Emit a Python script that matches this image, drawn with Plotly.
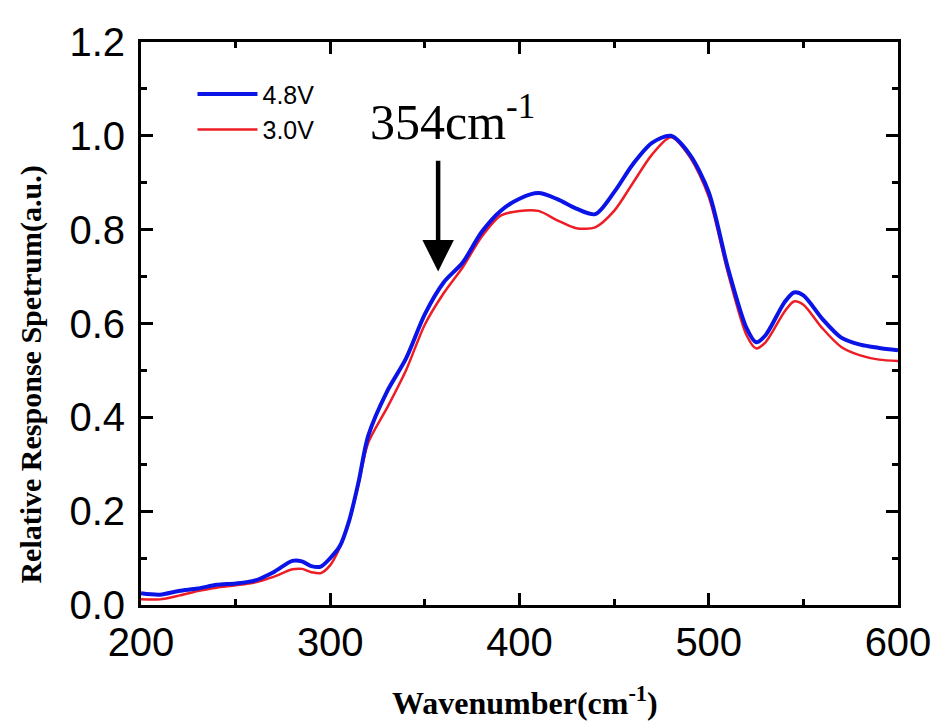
import plotly.graph_objects as go

wavenumber = [200, 210, 220, 230, 240, 250, 260, 270, 280, 285, 290, 295, 300, 305, 310, 315,
              320, 330, 340, 350, 360, 370, 380, 390, 400, 410, 420, 430, 440, 450, 460, 470,
              480, 490, 500, 510, 520, 525, 530, 540, 545, 550, 560, 570, 580, 590, 600]

resp_48v = [0.025, 0.022, 0.030, 0.035, 0.043, 0.046, 0.052, 0.070, 0.094, 0.093, 0.083, 0.082,
            0.100, 0.125, 0.180, 0.263, 0.360, 0.455, 0.525, 0.620, 0.688, 0.730, 0.795, 0.840,
            0.866, 0.878, 0.865, 0.845, 0.833, 0.880, 0.940, 0.985, 1.000, 0.960, 0.880, 0.720,
            0.590, 0.560, 0.575, 0.645, 0.666, 0.660, 0.610, 0.570, 0.555, 0.548, 0.543]

resp_30v = [0.012, 0.012, 0.020, 0.030, 0.037, 0.042, 0.048, 0.060, 0.076, 0.077, 0.070, 0.068,
            0.085, 0.122, 0.178, 0.258, 0.345, 0.420, 0.500, 0.598, 0.665, 0.720, 0.785, 0.830,
            0.840, 0.840, 0.820, 0.803, 0.805, 0.840, 0.900, 0.960, 0.997, 0.955, 0.870, 0.710,
            0.575, 0.547, 0.560, 0.625, 0.647, 0.640, 0.590, 0.550, 0.532, 0.523, 0.520]

series_names = ["4.8V", "3.0V"]
annot_label = "354cm<sup>-1</sup>"
x_tick_vals = [200, 300, 400, 500, 600]
y_tick_vals = [0.0, 0.2, 0.4, 0.6, 0.8, 1.0, 1.2]

fig = go.Figure()
fig.add_trace(go.Scatter(x=wavenumber, y=resp_30v, mode="lines", name=series_names[1],
                         line=dict(color="#ee1c24", width=2.5, shape="spline", smoothing=0.8),
                         legendrank=2))
fig.add_trace(go.Scatter(x=wavenumber, y=resp_48v, mode="lines", name=series_names[0],
                         line=dict(color="#0a14e6", width=4, shape="spline", smoothing=0.8),
                         legendrank=1))

axis_common = dict(showline=True, linewidth=3, linecolor="black", mirror="ticks",
                   ticks="inside", ticklen=12, tickwidth=3, tickcolor="black",
                   showgrid=False, zeroline=False,
                   tickfont=dict(family="Liberation Sans, Arial", size=40, color="black"))

fig.update_xaxes(range=[200, 600], tickvals=x_tick_vals, ticktext=[str(v) for v in x_tick_vals],
                 minor=dict(ticks="inside", ticklen=6, tickwidth=3, tickcolor="black", dtick=50,
                            showgrid=False),
                 **axis_common)
fig.update_yaxes(range=[0, 1.2], tickvals=y_tick_vals, ticktext=[f"{v:.1f}" for v in y_tick_vals],
                 minor=dict(ticks="inside", ticklen=6, tickwidth=3, tickcolor="black", dtick=0.1,
                            showgrid=False),
                 ticklabelstandoff=5,
                 **axis_common)

fig.add_annotation(x=357, y=0.711, ax=357, ay=0.95, xref="x", yref="y", axref="x", ayref="y",
                   showarrow=True, arrowhead=2, arrowsize=1.4, arrowwidth=4.5, arrowcolor="black",
                   text="")
fig.add_annotation(x=364.7, y=0.965, xref="x", yref="y", text=annot_label, showarrow=False,
                   xanchor="center", yanchor="bottom",
                   font=dict(family="Liberation Serif, Times New Roman", size=50, color="black"))

fig.add_annotation(x=-0.1455, y=0.409, xref="paper", yref="paper", textangle=-90,
                   text="<b>Relative Response Spetrum(a.u.)</b>", showarrow=False,
                   xanchor="center", yanchor="middle",
                   font=dict(family="Liberation Serif, Times New Roman", size=30, color="black"))
fig.add_annotation(x=0.507, y=-0.209, xref="paper", yref="paper",
                   text="<b>Wavenumber(cm<sup>-1</sup>)</b>", showarrow=False,
                   xanchor="center", yanchor="bottom",
                   font=dict(family="Liberation Serif, Times New Roman", size=32, color="black"))

fig.update_layout(
    width=935, height=718,
    margin=dict(l=133, r=40, t=28, b=121),
    paper_bgcolor="white", plot_bgcolor="white",
    showlegend=True,
    legend=dict(x=0.068, y=0.948, xanchor="left", yanchor="top", bgcolor="rgba(0,0,0,0)",
                font=dict(family="Liberation Sans, Arial", size=25, color="black"),
                itemwidth=60, tracegroupgap=0),
)

fig.write_html("out.html")
